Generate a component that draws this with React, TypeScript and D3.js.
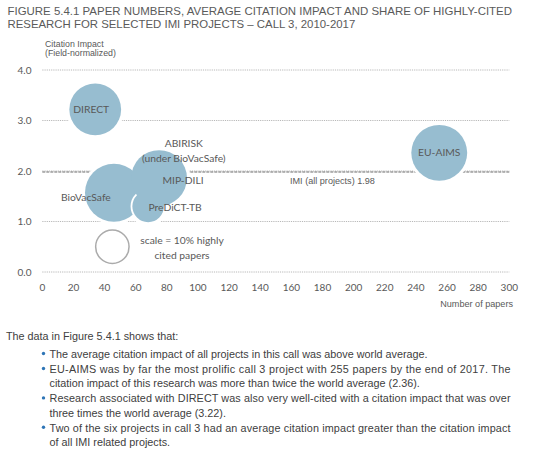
import React from "react";
import * as d3 from "d3";

// ---- data ----
const projects = ["ABIRISK", "BioVacSafe", "PreDiCT-TB", "MIP-DILI", "DIRECT", "EU-AIMS"];
const papers = [44, 46, 68, 75, 34, 255];
const impact = [1.55, 1.57, 1.3, 1.86, 3.22, 2.36];
const highlyCited = [20, 30, 10, 28, 24, 28];
const imiAll = 1.98;
const scaleShare = 10;
const scalePoint = { papers: 45, impact: 0.5 };
const xTicks = d3.range(0, 301, 20);
const yTicks = [0, 1, 2, 3, 4];

const titleLines = [
  "FIGURE 5.4.1 PAPER NUMBERS, AVERAGE CITATION IMPACT AND SHARE OF HIGHLY-CITED",
  "RESEARCH FOR SELECTED IMI PROJECTS \u2013 CALL 3, 2010-2017",
];
const intro = "The data in Figure 5.4.1 shows that:";
const bullets = [
  ["The average citation impact of all projects in this call was above world average."],
  [
    "EU-AIMS was by far the most prolific call 3 project with 255 papers by the end of 2017. The",
    "citation impact of this research was more than twice the world average (2.36).",
  ],
  [
    "Research associated with DIRECT was also very well-cited with a citation impact that was over",
    "three times the world average (3.22).",
  ],
  [
    "Two of the six projects in call 3 had an average citation impact greater than the citation impact",
    "of all IMI related projects.",
  ],
];

// ---- layout / style ----
const W = 542;
const H = 464;
const BUBBLE = "#97bdd0";
const GREY = "#595959";
const CAL = "Lato, 'Open Sans', sans-serif";
const ARIAL = "'Liberation Sans', Arial, sans-serif";
const outlined = new Set(["PreDiCT-TB"]);
// label placement relative to bubble centre [dx, dy]
const labelPos: Record<string, [number, number]> = {
  DIRECT: [-4, 0],
  "EU-AIMS": [0, 0],
  BioVacSafe: [-28, 5],
  "MIP-DILI": [24, 2],
  "PreDiCT-TB": [27, 1],
};
const BODY_FS = 10.8;
const JUSTIFY_W = 461;

export default function App() {
  const x = d3.scaleLinear().domain([0, 300]).range([42.3, 509.3]);
  const y = d3.scaleLinear().domain([0, 4]).range([272, 70]);
  const r = d3.scaleSqrt().domain([0, 10]).range([0, 16.7]);

  const pts = projects.map((name, i) => ({
    name,
    cx: x(papers[i]),
    cy: y(impact[i]),
    rr: r(highlyCited[i]),
  }));

  const abirisk = pts.find((p) => p.name === "ABIRISK")!;

  let lineY = 354;
  const bodyLines: React.ReactNode[] = [];
  bullets.forEach((para, pi) => {
    para.forEach((line, li) => {
      if (li === 0) {
        bodyLines.push(
          <circle key={`b${pi}`} cx={43.5} cy={lineY - 0.5} r={1.7} fill="#2e75b6" />
        );
      }
      const justified = li < para.length - 1;
      bodyLines.push(
        <text
          key={`l${pi}-${li}`}
          x={49.5}
          y={lineY + 3.8}
          fontSize={BODY_FS}
          fill="#404040"
          fontFamily={ARIAL}
          {...(justified ? { textLength: JUSTIFY_W, lengthAdjust: "spacing" } : {})}
        >
          {line}
        </text>
      );
      lineY += 14.4;
    });
    lineY += 0.6;
  });

  return (
    <svg width={W} height={H} style={{ position: "absolute", left: 0, top: 0, background: "#fff" }}>
      <rect width={W} height={H} fill="#fff" />
      {titleLines.map((t, i) => (
        <text
          key={i}
          x={7.5}
          y={15 + i * 13.4}
          fontSize={11.4}
          fill="#5a5a5a"
          fontFamily={ARIAL}
          {...(i === 0 ? { textLength: 504.5, lengthAdjust: "spacingAndGlyphs" } : {})}
        >
          {t}
        </text>
      ))}

      <text x={45} y={46.5} fontSize={8.8} fill={GREY} fontFamily={ARIAL}>
        Citation Impact
      </text>
      <text x={45} y={55.5} fontSize={8.8} fill={GREY} fontFamily={ARIAL}>
        (Field-normalized)
      </text>

      {/* gridlines */}
      {yTicks.map((t) => (
        <g key={t}>
          <line
            x1={x(0)}
            x2={x(300)}
            y1={y(t)}
            y2={y(t)}
            stroke="#a6a6a6"
            strokeWidth={0.8}
            strokeDasharray="1.2 1"
          />
          <text
            x={31.5}
            y={y(t) + 3.5}
            textAnchor="end"
            fontSize={10}
            fill={GREY}
            fontFamily={CAL}
          >
            {d3.format(".1f")(t)}
          </text>
        </g>
      ))}
      <line
        x1={x(0)}
        x2={x(300)}
        y1={y(imiAll)}
        y2={y(imiAll)}
        stroke="#6f6f6f"
        strokeWidth={1}
        strokeDasharray="3 1"
      />
      <text x={290} y={184} fontSize={9.1} fill={GREY} fontFamily={ARIAL}>
        {`IMI (all projects) ${imiAll}`}
      </text>

      {xTicks.map((t) => (
        <text
          key={t}
          x={x(t)}
          y={290.5}
          textAnchor="middle"
          fontSize={10}
          fill={GREY}
          fontFamily={CAL}
        >
          {t}
        </text>
      ))}
      <text x={513} y={306.5} textAnchor="end" fontSize={9.1} fill={GREY} fontFamily={ARIAL}>
        Number of papers
      </text>

      {/* halos cutting gridlines */}
      {pts.map((p) => (
        <circle key={`h${p.name}`} cx={p.cx} cy={p.cy} r={p.rr + 3} fill="#fff" />
      ))}
      {/* bubbles */}
      {pts.map((p) => (
        <circle
          key={p.name}
          cx={p.cx}
          cy={p.cy}
          r={p.rr}
          fill={BUBBLE}
          stroke={outlined.has(p.name) ? "#fff" : "none"}
          strokeWidth={outlined.has(p.name) ? 1.8 : 0}
        />
      ))}
      {pts
        .filter((p) => labelPos[p.name])
        .map((p) => {
          const [dx, dy] = labelPos[p.name];
          return (
            <text
              key={`t${p.name}`}
              x={p.cx + dx}
              y={p.cy + dy + 3.6}
              textAnchor="middle"
              fontSize={10.3}
              fill={GREY}
              fontFamily={CAL}
            >
              {p.name}
            </text>
          );
        })}
      <text x={abirisk.cx + 73} y={146.8} textAnchor="middle" fontSize={10.3} fill={GREY} fontFamily={CAL}>
        {abirisk.name}
      </text>
      <text x={abirisk.cx + 73} y={161.8} textAnchor="middle" fontSize={10.3} fill={GREY} fontFamily={CAL}>
        (under BioVacSafe)
      </text>

      {/* scale bubble */}
      <circle
        cx={x(scalePoint.papers)}
        cy={y(scalePoint.impact)}
        r={r(scaleShare)}
        fill="none"
        stroke="#ababab"
        strokeWidth={1.5}
      />
      <text x={182} y={244.2} textAnchor="middle" fontSize={10.3} fill={GREY} fontFamily={CAL}>
        {`scale = ${scaleShare}% highly`}
      </text>
      <text x={182} y={258.5} textAnchor="middle" fontSize={10.3} fill={GREY} fontFamily={CAL}>
        cited papers
      </text>

      <text x={6} y={339.7} fontSize={BODY_FS} fill="#404040" fontFamily={ARIAL}>
        {intro}
      </text>
      {bodyLines}
    </svg>
  );
}
